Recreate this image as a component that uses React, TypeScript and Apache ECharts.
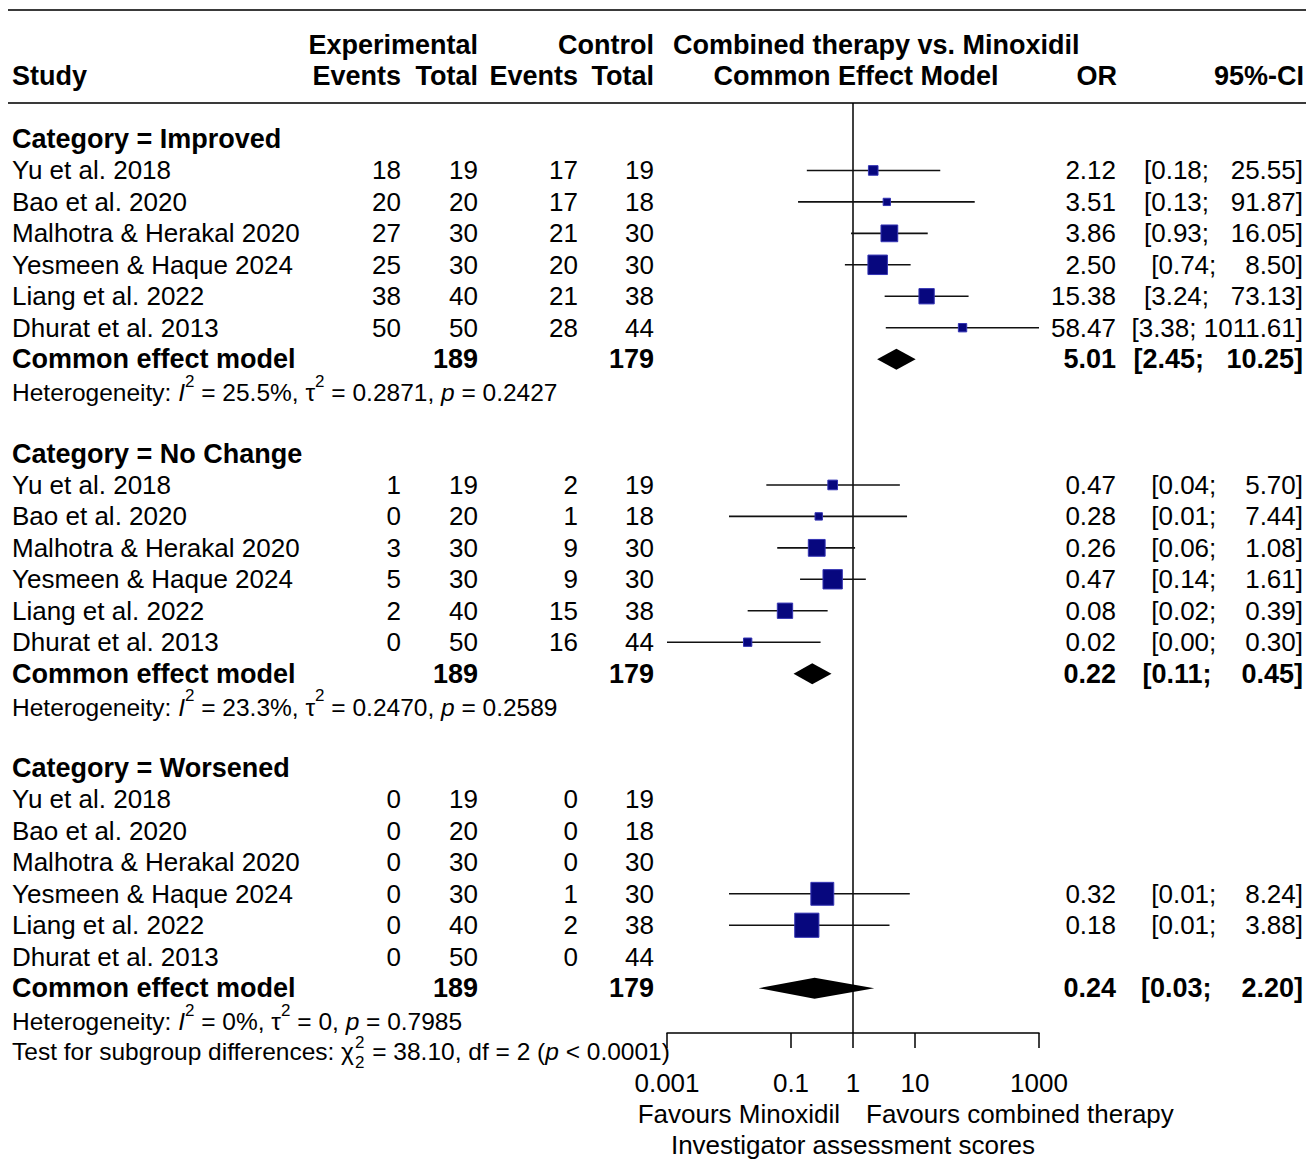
import React, { useEffect, useRef } from "react";
import * as echarts from "echarts";

// ---------------- DATA ----------------
const studies = [
  "Yu et al. 2018",
  "Bao et al. 2020",
  "Malhotra & Herakal 2020",
  "Yesmeen & Haque 2024",
  "Liang et al. 2022",
  "Dhurat et al. 2013",
];
const categories = ["Improved", "No Change", "Worsened"];
const expEvents = [
  [18, 20, 27, 25, 38, 50],
  [1, 0, 3, 5, 2, 0],
  [0, 0, 0, 0, 0, 0],
];
const expTotals = [19, 20, 30, 30, 40, 50];
const ctrlEvents = [
  [17, 17, 21, 20, 21, 28],
  [2, 1, 9, 9, 15, 16],
  [0, 0, 0, 1, 2, 0],
];
const ctrlTotals = [19, 18, 30, 30, 38, 44];
const oddsRatios = [
  [2.12, 3.51, 3.86, 2.5, 15.38, 58.47],
  [0.47, 0.28, 0.26, 0.47, 0.08, 0.02],
  [null, null, null, 0.32, 0.18, null],
];
const ciLower = [
  [0.18, 0.13, 0.93, 0.74, 3.24, 3.38],
  [0.04, 0.01, 0.06, 0.14, 0.02, 0.0],
  [null, null, null, 0.01, 0.01, null],
];
const ciUpper = [
  [25.55, 91.87, 16.05, 8.5, 73.13, 1011.61],
  [5.7, 7.44, 1.08, 1.61, 0.39, 0.3],
  [null, null, null, 8.24, 3.88, null],
];
const weightsPct = [
  [8.3, 4.8, 25.3, 34.2, 21.1, 6.3],
  [8.4, 4.9, 25.5, 33.8, 21.2, 6.3],
  [null, null, null, 47.3, 52.7, null],
];
const pooledOR = [5.01, 0.22, 0.24];
const pooledLower = [2.45, 0.11, 0.03];
const pooledUpper = [10.25, 0.45, 2.2];
const pooledExpTotal = 189;
const pooledCtrlTotal = 179;
const hetI2 = ["25.5%", "23.3%", "0%"];
const hetTau2 = ["0.2871", "0.2470", "0"];
const hetP = ["0.2427", "0.2589", "0.7985"];
const subgroupChi2 = "38.10";
const subgroupDf = "2";
const subgroupP = "< 0.0001";
const tickValues = [0.001, 0.1, 1, 10, 1000];
const tickLabels = ["0.001", "0.1", "1", "10", "1000"];
const leftLabel = "Favours Minoxidil";
const rightLabel = "Favours combined therapy";
const xAxisTitle = "Investigator assessment scores";

// ---------------- LAYOUT / STYLE ----------------
const W = 1306;
const H = 1159;
const FONT = '"Liberation Sans", Arial, Helvetica, sans-serif';
const FS = 26;
const FS_BOLD = 27;
const FS_HET = 24.5;
const FS_AXIS = 26;
const GRID_LEFT = 667;
const GRID_WIDTH = 372;
const GRID_TOP = 103;
const GRID_HEIGHT = 930;
const ROW_H = 31.45;
const FIRST_ROW_Y = 139;
const Y_MIN = -(FIRST_ROW_Y - GRID_TOP) / ROW_H;
const Y_MAX = Y_MIN + GRID_HEIGHT / ROW_H;
const X_MIN = -3;
const X_MAX = 3;
const SQUARE_SCALE = 3.33;
const DIAMOND_HALF = 10.5;
const COL = {
  study: 12,
  expEv: 401,
  expTot: 478,
  ctrlEv: 578,
  ctrlTot: 654,
  plotTitle: 673,
  model: 856,
  or: 1116,
  ciRight: 1303,
};

const clampX = (v: number) => Math.max(X_MIN, Math.min(X_MAX, v));
const lg = (v: number) => (v <= 0 ? X_MIN : clampX(Math.log10(v)));

let mctx: CanvasRenderingContext2D | null = null;
function measure(text: string, size: number, bold = false, italic = false) {
  if (!mctx) mctx = document.createElement("canvas").getContext("2d");
  if (!mctx) return text.length * size * 0.55;
  mctx.font = `${italic ? "italic " : ""}${bold ? "bold " : ""}${size}px ${FONT}`;
  return mctx.measureText(text).width;
}

function txt(
  x: number,
  y: number,
  text: string,
  o: { size?: number; bold?: boolean; italic?: boolean; align?: string } = {}
) {
  const align = o.align || "left";
  return {
    type: "text",
    x,
    y,
    silent: true,
    style: {
      text,
      fill: "#000",
      fontFamily: FONT,
      fontSize: o.size || (o.bold ? FS_BOLD : FS),
      fontWeight: o.bold ? "bold" : "normal",
      fontStyle: o.italic ? "italic" : "normal",
      align,
      textAlign: align,
      verticalAlign: "middle",
      textVerticalAlign: "middle",
    },
  };
}

const ciUpperWidth = Math.max(
  ...ciUpper.flat().filter((v) => v != null).map((v) => (v as number).toFixed(2).length),
  ...pooledUpper.map((v) => v.toFixed(2).length)
);

function ciTexts(y: number, lo: number, up: number, bold: boolean) {
  const loS = "[" + lo.toFixed(2) + ";";
  const upNum = up.toFixed(2);
  const upS = upNum + "]";
  const pad = " ".repeat(1 + ciUpperWidth - upNum.length);
  const total = measure(loS + pad + upS, bold ? FS_BOLD : FS, bold);
  return [
    txt(COL.ciRight - total, y, loS, { bold }),
    txt(COL.ciRight, y, upS, { bold, align: "right" }),
  ];
}

function buildGraphics(rowY: (i: number) => number, xPix: (v: number) => number) {
  const g: any[] = [];
  const ruleStyle = { stroke: "#3a3a3a", lineWidth: 2 };
  g.push({ type: "line", silent: true, shape: { x1: 8, y1: 10, x2: W, y2: 10 }, style: ruleStyle });
  g.push({ type: "line", silent: true, shape: { x1: 8, y1: GRID_TOP, x2: W, y2: GRID_TOP }, style: ruleStyle });

  // header
  g.push(txt(COL.expTot, rowY(-3), "Experimental", { bold: true, align: "right" }));
  g.push(txt(COL.ctrlTot, rowY(-3), "Control", { bold: true, align: "right" }));
  g.push(txt(COL.plotTitle, rowY(-3), "Combined therapy vs. Minoxidil", { bold: true }));
  g.push(txt(COL.study, rowY(-2), "Study", { bold: true }));
  g.push(txt(COL.expEv, rowY(-2), "Events", { bold: true, align: "right" }));
  g.push(txt(COL.expTot, rowY(-2), "Total", { bold: true, align: "right" }));
  g.push(txt(COL.ctrlEv, rowY(-2), "Events", { bold: true, align: "right" }));
  g.push(txt(COL.ctrlTot, rowY(-2), "Total", { bold: true, align: "right" }));
  g.push(txt(COL.model, rowY(-2), "Common Effect Model", { bold: true, align: "center" }));
  g.push(txt(COL.or + 1, rowY(-2), "OR", { bold: true, align: "right" }));
  g.push(txt(COL.ciRight + 1, rowY(-2), "95%-CI", { bold: true, align: "right" }));

  categories.forEach((cat, c) => {
    const base = c * 10;
    g.push(txt(COL.study, rowY(base), "Category = " + cat, { bold: true }));
    studies.forEach((name, s) => {
      const y = rowY(base + 1 + s);
      g.push(txt(COL.study, y, name));
      g.push(txt(COL.expEv, y, String(expEvents[c][s]), { align: "right" }));
      g.push(txt(COL.expTot, y, String(expTotals[s]), { align: "right" }));
      g.push(txt(COL.ctrlEv, y, String(ctrlEvents[c][s]), { align: "right" }));
      g.push(txt(COL.ctrlTot, y, String(ctrlTotals[s]), { align: "right" }));
      const or = oddsRatios[c][s];
      if (or != null) {
        g.push(txt(COL.or, y, or.toFixed(2), { align: "right" }));
        g.push(...ciTexts(y, ciLower[c][s] as number, ciUpper[c][s] as number, false));
      }
    });
    const yc = rowY(base + 7);
    g.push(txt(COL.study, yc, "Common effect model", { bold: true }));
    g.push(txt(COL.expTot, yc, String(pooledExpTotal), { bold: true, align: "right" }));
    g.push(txt(COL.ctrlTot, yc, String(pooledCtrlTotal), { bold: true, align: "right" }));
    g.push(txt(COL.or, yc, pooledOR[c].toFixed(2), { bold: true, align: "right" }));
    g.push(...ciTexts(yc, pooledLower[c], pooledUpper[c], true));

    const yh = rowY(base + 8) + 2;
    g.push({
      type: "text",
      x: COL.study,
      y: yh,
      silent: true,
      style: {
        text: `Heterogeneity: {i|I}{s|2} = ${hetI2[c]}, τ{s|2} = ${hetTau2[c]}, {i|p} = ${hetP[c]}`,
        fill: "#000",
        fontFamily: FONT,
        fontSize: FS_HET,
        lineHeight: 40,
        align: "left",
        textAlign: "left",
        verticalAlign: "middle",
        textVerticalAlign: "middle",
        rich: {
          i: { fontFamily: FONT, fontSize: FS_HET, fontStyle: "italic", lineHeight: 40, fill: "#000" },
          s: { fontFamily: FONT, fontSize: 17, lineHeight: 18, verticalAlign: "top", fill: "#000" },
        },
      },
    });
  });

  // test for subgroup differences
  const yt = rowY(29);
  const part1 = "Test for subgroup differences: χ";
  const w1 = measure(part1, FS_HET);
  g.push(txt(COL.study, yt, part1, { size: FS_HET }));
  g.push(txt(COL.study + w1 + 1, yt - 9, subgroupDf, { size: 17 }));
  g.push(txt(COL.study + w1 + 1, yt + 11, subgroupDf, { size: 17 }));
  const w2 = measure(subgroupDf, 17);
  g.push({
    type: "text",
    x: COL.study + w1 + w2 + 2,
    y: yt,
    silent: true,
    style: {
      text: ` = ${subgroupChi2}, df = ${subgroupDf} ({i|p} ${subgroupP})`,
      fill: "#000",
      fontFamily: FONT,
      fontSize: FS_HET,
      align: "left",
      textAlign: "left",
      verticalAlign: "middle",
      textVerticalAlign: "middle",
      rich: { i: { fontFamily: FONT, fontSize: FS_HET, fontStyle: "italic", fill: "#000" } },
    },
  });

  // axis labels (below axis)
  const refX = xPix(0);
  g.push(txt(refX - 13, rowY(31), leftLabel, { size: FS_AXIS, align: "right" }));
  g.push(txt(refX + 13, rowY(31), rightLabel, { size: FS_AXIS }));
  g.push(txt(refX, rowY(32), xAxisTitle, { size: FS_AXIS, align: "center" }));
  return g;
}

export default function App() {
  const ref = useRef<HTMLDivElement>(null);
  useEffect(() => {
    if (!ref.current) return;
    const chart = echarts.init(ref.current, null, { renderer: "svg", width: W, height: H });

    const studyData: any[] = [];
    categories.forEach((_, c) => {
      studies.forEach((__, s) => {
        const or = oddsRatios[c][s];
        if (or == null) return;
        studyData.push([
          lg(or),
          lg(ciLower[c][s] as number),
          lg(ciUpper[c][s] as number),
          c * 10 + 1 + s,
          weightsPct[c][s],
        ]);
      });
    });
    const pooledData = categories.map((_, c) => [
      lg(pooledOR[c]),
      lg(pooledLower[c]),
      lg(pooledUpper[c]),
      c * 10 + 7,
    ]);
    const tickLogs = tickValues.map((v) => Math.log10(v));

    chart.setOption({
      animation: false,
      backgroundColor: "#ffffff",
      textStyle: { fontFamily: FONT },
      grid: {
        left: GRID_LEFT,
        top: GRID_TOP,
        width: GRID_WIDTH,
        height: GRID_HEIGHT,
        containLabel: false,
        outerBoundsMode: "none",
      },
      xAxis: {
        type: "value",
        min: X_MIN,
        max: X_MAX,
        position: "bottom",
        axisLine: { show: true, onZero: false, lineStyle: { color: "#000", width: 1.5 } },
        axisTick: {
          show: true,
          inside: false,
          length: 15,
          customValues: tickLogs,
          lineStyle: { color: "#000", width: 1.5 },
        },
        axisLabel: {
          show: true,
          customValues: tickLogs,
          margin: 37,
          fontSize: FS_AXIS,
          fontFamily: FONT,
          color: "#000",
          formatter: (v: number) => {
            const i = tickLogs.findIndex((t) => Math.abs(t - v) < 1e-6);
            return i >= 0 ? tickLabels[i] : "";
          },
        },
        splitLine: { show: false },
      },
      yAxis: { type: "value", min: Y_MIN, max: Y_MAX, inverse: true, show: false },
      series: [
        {
          type: "custom",
          name: "reference",
          silent: true,
          data: [[0, Y_MIN, Y_MAX]],
          encode: { x: 0, y: [1, 2] },
          renderItem: (_p: any, api: any) => {
            const a = api.coord([api.value(0), api.value(1)]);
            const b = api.coord([api.value(0), api.value(2)]);
            return {
              type: "line",
              shape: { x1: a[0], y1: a[1], x2: b[0], y2: b[1] },
              style: { stroke: "#000", lineWidth: 1.5 },
            };
          },
        },
        {
          type: "custom",
          name: "studies",
          silent: true,
          data: studyData,
          encode: { x: [0, 1, 2], y: 3 },
          renderItem: (_p: any, api: any) => {
            const idx = api.value(3);
            const c = api.coord([api.value(0), idx]);
            const lo = api.coord([api.value(1), idx]);
            const hi = api.coord([api.value(2), idx]);
            const s = SQUARE_SCALE * Math.sqrt(api.value(4));
            return {
              type: "group",
              children: [
                {
                  type: "line",
                  shape: { x1: lo[0], y1: c[1], x2: hi[0], y2: c[1] },
                  style: { stroke: "#111", lineWidth: 1.6 },
                },
                {
                  type: "rect",
                  shape: { x: c[0] - s / 2, y: c[1] - s / 2, width: s, height: s },
                  style: { fill: "#07077e", stroke: "#3434b4", lineWidth: 1 },
                },
              ],
            };
          },
        },
        {
          type: "custom",
          name: "pooled",
          silent: true,
          data: pooledData,
          encode: { x: [0, 1, 2], y: 3 },
          renderItem: (_p: any, api: any) => {
            const idx = api.value(3);
            const c = api.coord([api.value(0), idx]);
            const lo = api.coord([api.value(1), idx]);
            const hi = api.coord([api.value(2), idx]);
            return {
              type: "polygon",
              shape: {
                points: [
                  [lo[0], c[1]],
                  [c[0], c[1] - DIAMOND_HALF],
                  [hi[0], c[1]],
                  [c[0], c[1] + DIAMOND_HALF],
                ],
              },
              style: { fill: "#000" },
            };
          },
        },
      ],
    });

    const rowY = (i: number) => (chart.convertToPixel({ gridIndex: 0 }, [0, i]) as number[])[1];
    const xPix = (v: number) => (chart.convertToPixel({ gridIndex: 0 }, [v, 0]) as number[])[0];
    chart.setOption({ graphic: buildGraphics(rowY, xPix) });

    return () => chart.dispose();
  }, []);

  return (
    <div
      ref={ref}
      style={{ position: "absolute", left: 0, top: 0, width: W, height: H, background: "#fff" }}
    />
  );
}
